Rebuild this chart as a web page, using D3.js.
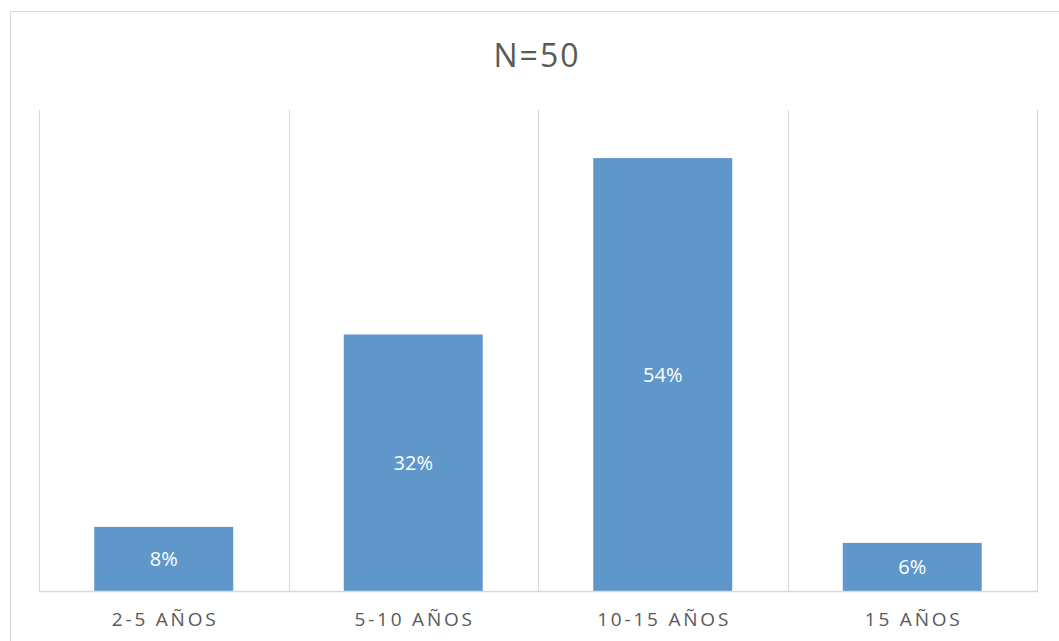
<!DOCTYPE html>
<html>
<head>
<meta charset="utf-8">
<script src="https://cdn.jsdelivr.net/npm/d3@7"></script>
<style>
  html, body { margin: 0; padding: 0; background: #fff; }
  svg { display: block; }
</style>
</head>
<body>
<svg id="chart" width="1059" height="641"></svg>
<script>
// Años de experiencia (porcentaje de encuestados)
const categories = ["2-5 AÑOS", "5-10 AÑOS", "10-15 AÑOS", "15 AÑOS"];
const values = [8, 32, 54, 6];
const title = "N=50";
const yMax = 60;

const W = 1059, H = 641;
const plot = { left: 39, right: 1037, top: 110, bottom: 591 };
const font = "'Open Sans', 'Noto Sans', sans-serif";

const svg = d3.select("#chart");

// chart frame
svg.append("rect")
  .attr("x", 10.5).attr("y", 11.5)
  .attr("width", W + 20).attr("height", H + 20)
  .attr("fill", "#fff")
  .attr("stroke", "#d9d9d9")
  .attr("stroke-width", 1);

// title
svg.append("text")
  .attr("x", 537).attr("y", 67)
  .attr("text-anchor", "middle")
  .attr("font-family", font)
  .attr("font-size", 32)
  .attr("letter-spacing", "2px")
  .attr("fill", "#595959")
  .text(title);

// cell scale (category slots) and bar scale
const cells = d3.scaleBand().domain(categories).range([plot.left, plot.right]).padding(0);
const x = d3.scaleBand().domain(categories).range([plot.left, plot.right])
  .paddingInner(0.443).paddingOuter(0.2215);
const y = d3.scaleLinear().domain([0, yMax]).range([plot.bottom, plot.top]);

// vertical separators between categories
const sepX = categories.map(c => cells(c)).concat([plot.right]);
svg.append("g").selectAll("line")
  .data(sepX)
  .join("line")
  .attr("x1", d => Math.round(d) + 0.5).attr("x2", d => Math.round(d) + 0.5)
  .attr("y1", plot.top).attr("y2", plot.bottom)
  .attr("stroke", "#d9d9d9")
  .attr("stroke-width", 1);

// bars
svg.append("g").selectAll("rect")
  .data(values)
  .join("rect")
  .attr("x", (d, i) => x(categories[i]))
  .attr("y", d => y(d))
  .attr("width", x.bandwidth())
  .attr("height", d => y(0) - y(d))
  .attr("fill", "#6097ca");

// baseline
svg.append("line")
  .attr("x1", plot.left).attr("x2", plot.right + 1)
  .attr("y1", plot.bottom + 0.5).attr("y2", plot.bottom + 0.5)
  .attr("stroke", "#d9d9d9")
  .attr("stroke-width", 1.5);

// value labels centred in bars
svg.append("g").selectAll("text")
  .data(values)
  .join("text")
  .attr("x", (d, i) => x(categories[i]) + x.bandwidth() / 2)
  .attr("y", d => (y(d) + y(0)) / 2 + 7.5)
  .attr("text-anchor", "middle")
  .attr("font-family", font)
  .attr("font-size", 20)
  .attr("fill", "#ffffff")
  .text(d => d + "%");

// category axis
const xAxis = d3.axisBottom(cells).tickSize(0).tickPadding(0);
const gx = svg.append("g").attr("transform", `translate(0,${plot.bottom})`).call(xAxis);
gx.select(".domain").remove();
gx.selectAll("text")
  .attr("y", 35)
  .attr("dy", 0)
  .attr("dx", "1.4px")
  .attr("font-family", font)
  .attr("font-size", 19)
  .attr("letter-spacing", "2.8px")
  .attr("fill", "#595959");
</script>
</body>
</html>
